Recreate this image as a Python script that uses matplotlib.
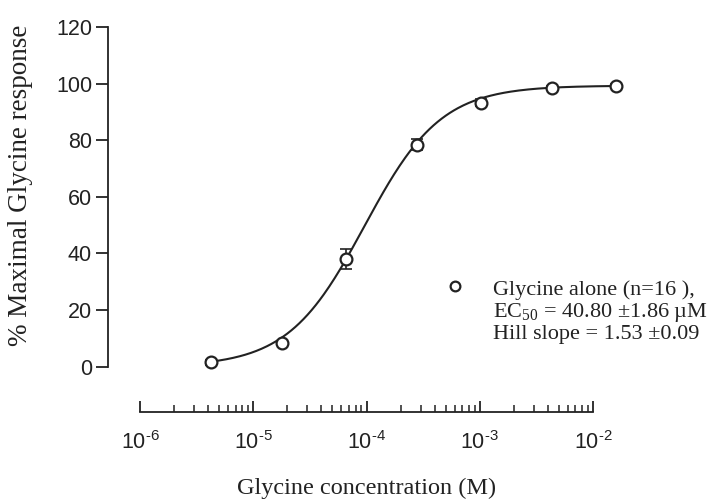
import numpy as np
import matplotlib
matplotlib.use("Agg")
import matplotlib.pyplot as plt
from matplotlib.ticker import LogLocator, NullFormatter, FixedLocator

# data
conc = [3e-6, 1e-5, 3e-5, 1e-4, 3e-4, 1e-3, 3e-3]
resp = [1.5, 8.3, 38.0, 78.4, 93.2, 98.4, 99.2]
err = [0.8, 0.8, 3.5, 2.0, 1.2, 0.8, 0.8]
ec50 = 40.8e-6
hill = 1.53
top = 99.3
xticks = [1e-6, 1e-5, 1e-4, 1e-3, 1e-2]
xticklabels = ['$\\mathregular{10^{\\text{-}6}}$', '$\\mathregular{10^{\\text{-}5}}$',
               '$\\mathregular{10^{\\text{-}4}}$', '$\\mathregular{10^{\\text{-}3}}$',
               '$\\mathregular{10^{\\text{-}2}}$']
yticks = [0, 20, 40, 60, 80, 100, 120]

plt.rcParams['font.family'] = 'Liberation Sans'
plt.rcParams['mathtext.fontset'] = 'custom'
plt.rcParams['mathtext.rm'] = 'Liberation Sans'
serif = 'Liberation Serif'
ink = '#222222'

fig = plt.figure(figsize=(7.2, 5.01), dpi=100)
rect = [140 / 720, 1 - 412 / 501, 453 / 720, 385 / 501]

# bottom axis with the concentration ticks (drawn on its own scale like the original)
ax2 = fig.add_axes(rect)
ax2.set_xscale('log')
ax2.set_xlim(1e-6, 1e-2)
ax2.set_ylim(0, 1)
for s in ['top', 'right', 'left']:
    ax2.spines[s].set_visible(False)
ax2.spines['bottom'].set_linewidth(1.3)
ax2.spines['bottom'].set_color(ink)
ax2.set_yticks([])
ax2.xaxis.set_major_locator(FixedLocator(xticks))
ax2.set_xticklabels(xticklabels)
ax2.xaxis.set_minor_locator(LogLocator(base=10, subs=np.arange(2, 10), numticks=20))
ax2.xaxis.set_minor_formatter(NullFormatter())
ax2.tick_params(axis='x', which='major', direction='in', length=8, width=1.3,
                labelsize=15.5, colors=ink, pad=14)
ax2.tick_params(axis='x', which='minor', direction='in', length=5, width=1.1, colors=ink)
ax2.set_xlabel('Glycine concentration (M)', fontfamily=serif, fontsize=17.5,
               color=ink, labelpad=17)
ax2.patch.set_visible(False)

# data axes
ax = fig.add_axes(rect)
ax.patch.set_visible(False)
ax.set_xscale('log')
ax.set_xlim(10 ** -6.052, 10 ** -2.696)
ax.set_ylim(-16, 120)

# fitted Hill curve (parameters shown in the legend text)
xs = np.logspace(np.log10(conc[0]), np.log10(conc[-1]), 300)
ys = top / (1 + (ec50 / xs) ** hill)
ax.plot(xs, ys, color=ink, lw=1.5, zorder=2, clip_on=False)

ax.errorbar(conc, resp, yerr=err, fmt='none', ecolor=ink, elinewidth=1.2,
            capsize=4, capthick=1.2, zorder=3, clip_on=False)
ax.plot(conc, resp, 'o', mfc='white', mec=ink, mew=1.6, ms=8.5, zorder=4, ls='none',
        clip_on=False)

ax.spines['top'].set_visible(False)
ax.spines['right'].set_visible(False)
ax.spines['bottom'].set_visible(False)
ax.spines['left'].set_position(('outward', 23))
ax.spines['left'].set_bounds(0, 120)
ax.spines['left'].set_linewidth(1.3)
ax.spines['left'].set_color(ink)
ax.set_xticks([])
ax.xaxis.set_minor_locator(FixedLocator([]))

ax.set_yticks(yticks)
ax.set_yticklabels([str(v) for v in yticks])
ax.tick_params(axis='y', direction='out', length=9, width=1.3, labelsize=15.5,
               colors=ink, pad=2.5)

ax.set_ylabel('% Maximal Glycine response', fontfamily=serif, fontsize=19.5, color=ink)
ax.yaxis.set_label_coords(-0.236, 0.59)

# legend block
fig.lines.append(plt.Line2D([455 / 720], [1 - 286 / 501], transform=fig.transFigure,
                            marker='o', mfc='white', mec=ink, mew=1.6, ms=7, ls='none'))
fig.text(0.685, 1 - 295 / 501, 'Glycine alone (n=16 ),', fontfamily=serif, fontsize=16,
         color=ink, va='baseline')
fig.text(0.685, 1 - 317 / 501, 'EC$_{\\mathregular{50}}$ = 40.80 \u00b11.86 \u00b5M',
         fontfamily=serif, fontsize=16, color=ink, va='baseline')
fig.text(0.685, 1 - 339 / 501, 'Hill slope = 1.53 \u00b10.09', fontfamily=serif,
         fontsize=16, color=ink, va='baseline')

fig.savefig('out.png', dpi=100)
